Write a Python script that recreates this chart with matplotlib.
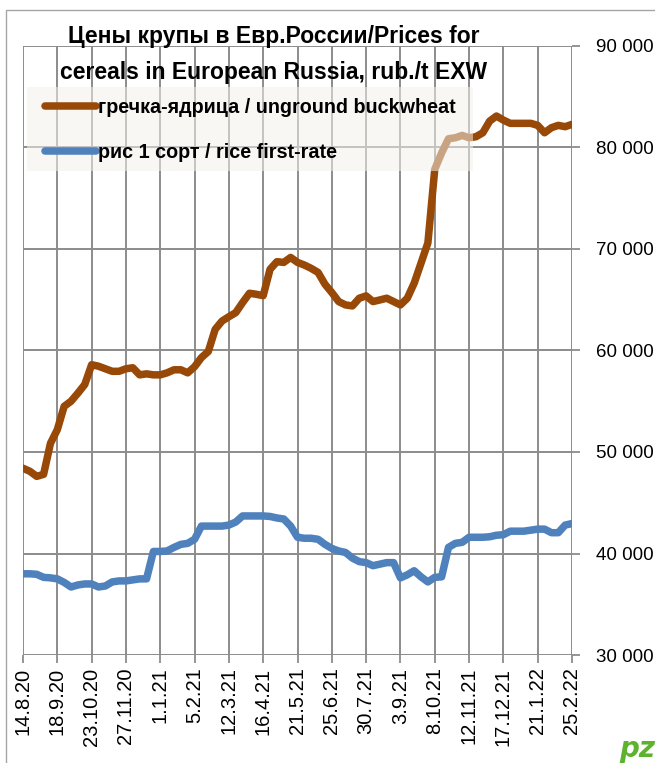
import matplotlib
matplotlib.use("Agg")
import matplotlib.pyplot as plt
from matplotlib.patches import Rectangle

# weekly prices, rub./t EXW, 14.8.20 .. 25.2.22
buckwheat = [48400, 48100, 47600, 47800, 50850, 52200, 54500, 55000, 55800, 56650,
             58600, 58450, 58200, 57950, 57950, 58200, 58300, 57600, 57700, 57600,
             57600, 57800, 58100, 58100, 57800, 58400, 59300, 59900, 62080, 62900,
             63330, 63730, 64720, 65640, 65540, 65400, 68000, 68750, 68680, 69170,
             68680, 68420, 68090, 67690, 66530, 65710, 64820, 64490, 64390, 65150,
             65380, 64820, 64980, 65150, 64820, 64490, 65150, 66630, 68610, 70600,
             77850, 79470, 80860, 80960, 81190, 80960, 81060, 81450, 82600, 83100,
             82700, 82380, 82380, 82380, 82380, 82180, 81450, 81950, 82180, 82050,
             82280]
rice = [38000, 38000, 37950, 37650, 37600, 37500, 37150, 36700, 36900, 37000,
        37000, 36700, 36800, 37200, 37300, 37300, 37400, 37500, 37500, 40200,
        40200, 40250, 40600, 40900, 41000, 41400, 42700, 42700, 42700, 42700,
        42800, 43100, 43700, 43700, 43700, 43700, 43650, 43500, 43400, 42700,
        41600, 41500, 41500, 41400, 40900, 40500, 40250, 40100, 39550, 39200,
        39100, 38800, 38950, 39100, 39100, 37600, 37900, 38300, 37700, 37200,
        37650, 37700, 40600, 41000, 41100, 41600, 41600, 41600, 41650, 41800,
        41850, 42200, 42200, 42200, 42300, 42400, 42400, 42050, 42050, 42800,
        42950]
tick_labels = ["14.8.20", "18.9.20", "23.10.20", "27.11.20", "1.1.21", "5.2.21",
               "12.3.21", "16.4.21", "21.5.21", "25.6.21", "30.7.21", "3.9.21",
               "8.10.21", "12.11.21", "17.12.21", "21.1.22", "25.2.22"]

weeks = list(range(len(buckwheat)))

fig = plt.figure(figsize=(6.55, 7.63), dpi=100)
fig.patches.append(Rectangle((6 / 655, -0.1), 1.2, 1.1 - 10 / 763,
                             transform=fig.transFigure, fill=False,
                             edgecolor="#A6A6A6", lw=1.0))
ax = fig.add_axes([23 / 655, 1 - 655 / 763, 549 / 655, 609 / 763])

ax.plot(weeks, buckwheat, color="#984807", lw=5.4, solid_joinstyle="round",
        solid_capstyle="round", label="гречка-ядрица / unground buckwheat", zorder=3)
ax.plot(weeks, rice, color="#4F81BD", lw=5.4, solid_joinstyle="round",
        solid_capstyle="round", label="рис 1 сорт / rice first-rate", zorder=3)

ax.set_xlim(0, len(weeks) - 1)
ax.set_ylim(30000, 90000)
ax.set_xticks(range(0, len(weeks), 5))
ax.set_xticklabels(tick_labels, rotation=90, fontsize=14.5, family="Liberation Sans")
ax.set_yticks(range(30000, 90001, 10000))
ax.set_yticklabels(["{:,}".format(v).replace(",", " ") for v in range(30000, 90001, 10000)],
                   fontsize=13.5, family="Liberation Sans")
ax.yaxis.tick_right()
ax.tick_params(axis="both", length=6, width=1.3, color="#8C8C8C")
ax.tick_params(axis="y", pad=11)
ax.tick_params(axis="x", pad=3)
ax.grid(True, color="#8C8C8C", lw=1.4)
ax.set_axisbelow(True)
for s in ax.spines.values():
    s.set_visible(False)

# semi-transparent legend panel lying over the lines
ax.add_patch(Rectangle((4 / 549, (655 - 171) / 609), 446 / 549, 84 / 609,
                       transform=ax.transAxes, facecolor="#F3F1EB", alpha=0.55,
                       edgecolor="none", zorder=5))
leg = ax.legend(loc="upper left", bbox_to_anchor=(22 / 549, (655 - 98) / 609),
                frameon=False, borderaxespad=0, borderpad=0,
                prop={"family": "Liberation Sans", "weight": "bold", "size": 14.2},
                handlelength=2.6, handletextpad=0.1, labelspacing=1.3)
leg.set_zorder(6)
for h in leg.get_lines():
    h.set_linewidth(5.4)

fig.text(274 / 655, 1 - 36 / 763, "Цены крупы в Евр.России/Prices for",
         ha="center", va="center", fontsize=16.5, weight="bold", family="Liberation Sans")
fig.text(274 / 655, 1 - 73 / 763, "cereals in European Russia, rub./t EXW",
         ha="center", va="center", fontsize=16.5, weight="bold", family="Liberation Sans")

fig.text(637 / 655, 1 - 749 / 763, "pz", ha="center", va="center", fontsize=20,
         weight="bold", style="italic", color="#5DB32B")

fig.savefig("out.png", dpi=100)
